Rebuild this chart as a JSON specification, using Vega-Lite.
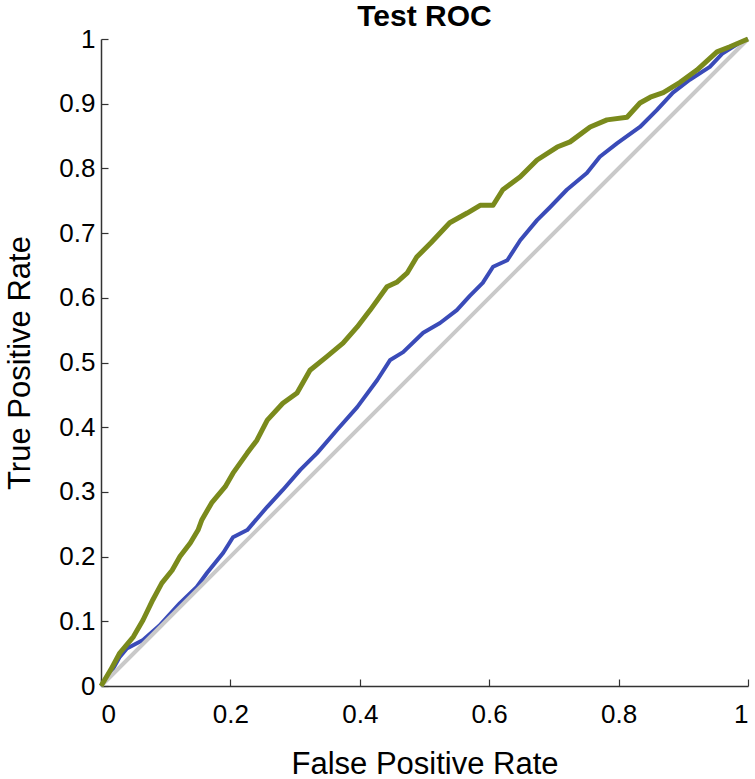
{
  "$schema": "https://vega.github.io/schema/vega-lite/v6.json",
  "autosize": {"type": "none"},
  "width": 647,
  "height": 647,
  "padding": {"left": 101, "top": 39, "right": 7, "bottom": 93},
  "background": "white",
  "title": {"text": "Test ROC", "font": "Liberation Sans", "fontSize": 30, "fontWeight": "bold", "color": "black", "offset": -6},
  "config": {
    "view": {"stroke": null},
    "axis": {
      "grid": false,
      "domainColor": "#333333",
      "domainWidth": 1.5,
      "tickColor": "#333333",
      "tickWidth": 1.2,
      "tickSize": -7,
      "labelFont": "Liberation Sans",
      "labelFontSize": 26,
      "labelColor": "black",
      "titleFont": "Liberation Sans",
      "titleFontSize": 31,
      "titleFontWeight": "normal",
      "titleColor": "black"
    }
  },
  "datasets": {
    "roc": [
      {"series": "diag", "fpr": 0, "tpr": 0},
      {"series": "diag", "fpr": 1, "tpr": 1},
      {"series": "blue", "fpr": 0, "tpr": 0},
      {"series": "blue", "fpr": 0.015, "tpr": 0.02},
      {"series": "blue", "fpr": 0.029, "tpr": 0.045},
      {"series": "blue", "fpr": 0.04, "tpr": 0.058},
      {"series": "blue", "fpr": 0.065, "tpr": 0.071},
      {"series": "blue", "fpr": 0.09, "tpr": 0.093},
      {"series": "blue", "fpr": 0.122, "tpr": 0.128},
      {"series": "blue", "fpr": 0.148, "tpr": 0.153},
      {"series": "blue", "fpr": 0.164, "tpr": 0.175},
      {"series": "blue", "fpr": 0.189, "tpr": 0.206},
      {"series": "blue", "fpr": 0.204, "tpr": 0.23},
      {"series": "blue", "fpr": 0.226, "tpr": 0.241},
      {"series": "blue", "fpr": 0.257, "tpr": 0.277},
      {"series": "blue", "fpr": 0.281, "tpr": 0.303},
      {"series": "blue", "fpr": 0.308, "tpr": 0.334},
      {"series": "blue", "fpr": 0.334, "tpr": 0.36},
      {"series": "blue", "fpr": 0.365, "tpr": 0.396},
      {"series": "blue", "fpr": 0.396, "tpr": 0.431},
      {"series": "blue", "fpr": 0.427, "tpr": 0.473},
      {"series": "blue", "fpr": 0.447, "tpr": 0.504},
      {"series": "blue", "fpr": 0.467, "tpr": 0.516},
      {"series": "blue", "fpr": 0.498, "tpr": 0.546},
      {"series": "blue", "fpr": 0.524, "tpr": 0.561},
      {"series": "blue", "fpr": 0.55, "tpr": 0.581},
      {"series": "blue", "fpr": 0.57, "tpr": 0.603},
      {"series": "blue", "fpr": 0.59, "tpr": 0.623},
      {"series": "blue", "fpr": 0.606, "tpr": 0.648},
      {"series": "blue", "fpr": 0.628, "tpr": 0.658},
      {"series": "blue", "fpr": 0.648, "tpr": 0.689},
      {"series": "blue", "fpr": 0.674, "tpr": 0.72},
      {"series": "blue", "fpr": 0.694, "tpr": 0.74},
      {"series": "blue", "fpr": 0.72, "tpr": 0.767},
      {"series": "blue", "fpr": 0.751, "tpr": 0.793},
      {"series": "blue", "fpr": 0.771, "tpr": 0.818},
      {"series": "blue", "fpr": 0.798, "tpr": 0.839},
      {"series": "blue", "fpr": 0.833, "tpr": 0.864},
      {"series": "blue", "fpr": 0.859, "tpr": 0.89},
      {"series": "blue", "fpr": 0.884, "tpr": 0.917},
      {"series": "blue", "fpr": 0.91, "tpr": 0.937},
      {"series": "blue", "fpr": 0.941, "tpr": 0.957},
      {"series": "blue", "fpr": 0.961, "tpr": 0.978},
      {"series": "blue", "fpr": 0.98, "tpr": 0.99},
      {"series": "blue", "fpr": 1, "tpr": 1},
      {"series": "green", "fpr": 0, "tpr": 0},
      {"series": "green", "fpr": 0.015, "tpr": 0.025},
      {"series": "green", "fpr": 0.029, "tpr": 0.051},
      {"series": "green", "fpr": 0.05, "tpr": 0.076},
      {"series": "green", "fpr": 0.065, "tpr": 0.102},
      {"series": "green", "fpr": 0.08, "tpr": 0.133},
      {"series": "green", "fpr": 0.094, "tpr": 0.159},
      {"series": "green", "fpr": 0.11, "tpr": 0.179},
      {"series": "green", "fpr": 0.122, "tpr": 0.2},
      {"series": "green", "fpr": 0.138, "tpr": 0.221},
      {"series": "green", "fpr": 0.15, "tpr": 0.241},
      {"series": "green", "fpr": 0.156, "tpr": 0.257},
      {"series": "green", "fpr": 0.171, "tpr": 0.283},
      {"series": "green", "fpr": 0.192, "tpr": 0.308},
      {"series": "green", "fpr": 0.204, "tpr": 0.329},
      {"series": "green", "fpr": 0.226, "tpr": 0.36},
      {"series": "green", "fpr": 0.241, "tpr": 0.38},
      {"series": "green", "fpr": 0.257, "tpr": 0.411},
      {"series": "green", "fpr": 0.281, "tpr": 0.437},
      {"series": "green", "fpr": 0.303, "tpr": 0.453},
      {"series": "green", "fpr": 0.323, "tpr": 0.488},
      {"series": "green", "fpr": 0.349, "tpr": 0.509},
      {"series": "green", "fpr": 0.374, "tpr": 0.53},
      {"series": "green", "fpr": 0.396, "tpr": 0.555},
      {"series": "green", "fpr": 0.416, "tpr": 0.581},
      {"series": "green", "fpr": 0.442, "tpr": 0.617},
      {"series": "green", "fpr": 0.457, "tpr": 0.624},
      {"series": "green", "fpr": 0.473, "tpr": 0.638},
      {"series": "green", "fpr": 0.488, "tpr": 0.663},
      {"series": "green", "fpr": 0.51, "tpr": 0.685},
      {"series": "green", "fpr": 0.539, "tpr": 0.716},
      {"series": "green", "fpr": 0.566, "tpr": 0.731},
      {"series": "green", "fpr": 0.586, "tpr": 0.743},
      {"series": "green", "fpr": 0.606, "tpr": 0.743},
      {"series": "green", "fpr": 0.621, "tpr": 0.767},
      {"series": "green", "fpr": 0.648, "tpr": 0.787},
      {"series": "green", "fpr": 0.674, "tpr": 0.813},
      {"series": "green", "fpr": 0.705, "tpr": 0.833},
      {"series": "green", "fpr": 0.725, "tpr": 0.841},
      {"series": "green", "fpr": 0.756, "tpr": 0.864},
      {"series": "green", "fpr": 0.782, "tpr": 0.875},
      {"series": "green", "fpr": 0.813, "tpr": 0.879},
      {"series": "green", "fpr": 0.833, "tpr": 0.901},
      {"series": "green", "fpr": 0.849, "tpr": 0.91},
      {"series": "green", "fpr": 0.869, "tpr": 0.917},
      {"series": "green", "fpr": 0.895, "tpr": 0.933},
      {"series": "green", "fpr": 0.921, "tpr": 0.952},
      {"series": "green", "fpr": 0.952, "tpr": 0.98},
      {"series": "green", "fpr": 0.972, "tpr": 0.988},
      {"series": "green", "fpr": 1, "tpr": 1}
    ]
  },
  "data": {"name": "roc"},
  "encoding": {
    "x": {
      "field": "fpr", "type": "quantitative",
      "scale": {"domain": [0, 1], "nice": false},
      "axis": {"title": "False Positive Rate", "values": [0, 0.2, 0.4, 0.6, 0.8, 1], "format": ".1~f", "labelPadding": 22, "titlePadding": 22}
    },
    "y": {
      "field": "tpr", "type": "quantitative",
      "scale": {"domain": [0, 1], "nice": false},
      "axis": {"title": "True Positive Rate", "values": [0, 0.1, 0.2, 0.3, 0.4, 0.5, 0.6, 0.7, 0.8, 0.9, 1], "format": ".1~f", "labelPadding": 13, "titlePadding": 22}
    }
  },
  "layer": [
    {
      "transform": [{"filter": "datum.series === 'blue'"}],
      "mark": {"type": "line", "color": "#3a4bb8", "strokeWidth": 4, "strokeJoin": "round"}
    },
    {
      "transform": [{"filter": "datum.series === 'diag'"}],
      "mark": {"type": "line", "color": "#c9c9c9", "strokeWidth": 4}
    },
    {
      "transform": [{"filter": "datum.series === 'green'"}],
      "mark": {"type": "line", "color": "#7a8a1c", "strokeWidth": 5, "strokeJoin": "round"}
    }
  ]
}
